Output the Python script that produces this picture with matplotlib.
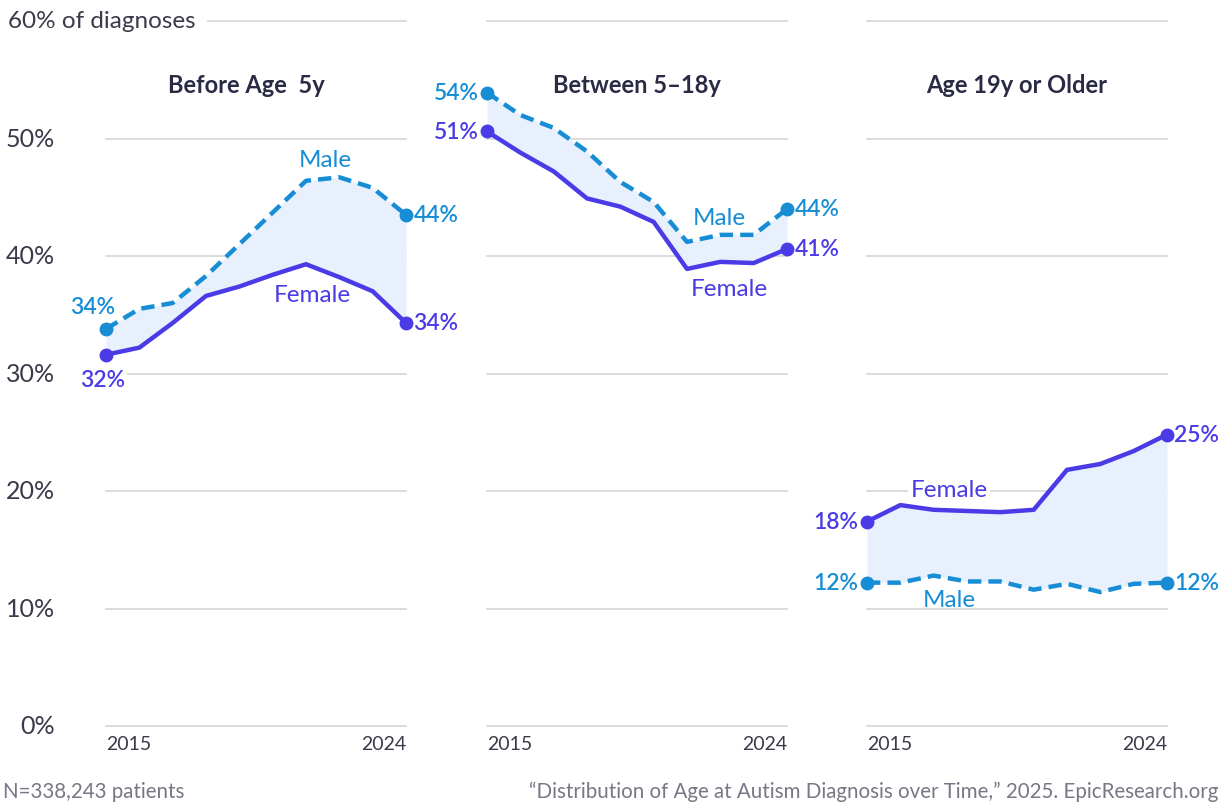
import numpy as np
import matplotlib
matplotlib.use('Agg')
import matplotlib.pyplot as plt

plt.rcParams['font.family'] = ['Lato', 'DejaVu Sans']

years = np.arange(2015, 2025)

titles = ['Before Age  5y', 'Between 5\u201318y', 'Age 19y or Older']

male = [
    [33.8, 35.5, 36.0, 38.3, 41.0, 43.7, 46.4, 46.7, 45.8, 43.5],
    [53.9, 52.0, 50.9, 48.9, 46.3, 44.6, 41.2, 41.8, 41.8, 44.0],
    [12.2, 12.2, 12.8, 12.3, 12.3, 11.6, 12.1, 11.4, 12.1, 12.2],
]
female = [
    [31.6, 32.2, 34.3, 36.6, 37.4, 38.4, 39.3, 38.2, 37.0, 34.3],
    [50.6, 48.8, 47.2, 44.9, 44.2, 42.9, 38.9, 39.5, 39.4, 40.6],
    [17.4, 18.8, 18.4, 18.3, 18.2, 18.4, 21.8, 22.3, 23.4, 24.8],
]
# end-point labels (start, end)
male_lbl = [('34%', '44%'), ('54%', '44%'), ('12%', '12%')]
female_lbl = [('32%', '34%'), ('51%', '41%'), ('18%', '25%')]

# series name label positions (year, value)
male_name_pos = [(2021.57, 48.2), (2021.96, 43.3), (2017.46, 10.8)]
female_name_pos = [(2021.2, 36.7), (2022.26, 37.2), (2017.46, 20.15)]

yticks = [0, 10, 20, 30, 40, 50, 60]

MALE_C = '#178dd5'
FEMALE_C = '#4a3be6'
FILL_C = '#e7f0fc'
GRID_C = '#d6d6d6'
TITLE_C = '#2a2a45'
TEXT_C = '#3a3a4a'

W, H = 1220, 803
fig = plt.figure(figsize=(12.2, 8.03), dpi=100)
fig.patch.set_facecolor('white')

lefts = [106, 487, 867]
bottom = 1 - 727 / H
height = (727 - 22) / H

bbox_w = dict(facecolor='white', edgecolor='none', pad=1.5)
LBL = 16.5

for i in range(3):
    ax = fig.add_axes([lefts[i] / W, bottom, 300 / W, height])
    ax.set_xlim(2015, 2024)
    ax.set_ylim(0, 60)
    for s in ax.spines.values():
        s.set_visible(False)
    ax.set_xticks([])
    ax.set_yticks([])
    for v in yticks:
        ax.axhline(v, color=GRID_C, lw=1.2, zorder=0, clip_on=False)

    m = np.array(male[i])
    f = np.array(female[i])
    ax.fill_between(years, m, f, color=FILL_C, lw=0, zorder=1)
    ax.plot(years, f, color=FEMALE_C, lw=3.2, solid_joinstyle='round',
            zorder=3, clip_on=False)
    ax.plot(years, m, color=MALE_C, lw=3.2, dashes=(3.0, 1.6),
            zorder=3, clip_on=False)
    ax.plot(years[[0, -1]], m[[0, -1]], 'o', color=MALE_C, ms=9,
            zorder=4, clip_on=False)
    ax.plot(years[[0, -1]], f[[0, -1]], 'o', color=FEMALE_C, ms=9,
            zorder=4, clip_on=False)

    # endpoint labels
    if i == 0:
        ax.text(2014.6, 35.7, male_lbl[i][0], color=MALE_C, fontsize=LBL,
                fontweight='semibold', ha='center', va='center', zorder=5)
        ax.text(2014.9, 29.5, female_lbl[i][0], color=FEMALE_C, fontsize=LBL,
                fontweight='semibold', ha='center', va='center', zorder=5,
                bbox=bbox_w)
    else:
        ax.text(2014.75, m[0], male_lbl[i][0], color=MALE_C, fontsize=LBL,
                fontweight='semibold', ha='right', va='center', zorder=5)
        ax.text(2014.75, f[0], female_lbl[i][0], color=FEMALE_C, fontsize=LBL,
                fontweight='semibold', ha='right', va='center', zorder=5)
    ax.text(2024.22, m[-1], male_lbl[i][1], color=MALE_C, fontsize=LBL,
            fontweight='semibold', ha='left', va='center', zorder=5)
    ax.text(2024.22, f[-1], female_lbl[i][1], color=FEMALE_C, fontsize=LBL,
            fontweight='semibold', ha='left', va='center', zorder=5)

    # series names
    ax.text(*male_name_pos[i], 'Male', color=MALE_C, fontsize=17.5,
            ha='center', va='center', zorder=5)
    ax.text(*female_name_pos[i], 'Female', color=FEMALE_C, fontsize=17.5,
            ha='center', va='center', zorder=5,
            bbox=bbox_w if i == 2 else None)

    # title
    ax.text(0.467 if i == 0 else 0.5, 54.6 / 60, titles[i], transform=ax.transAxes,
            ha='center', va='center', fontsize=17, fontweight='bold',
            color=TITLE_C, zorder=5)

    # year labels
    ax.text(2015, -1.5, '2015', ha='left', va='center', fontsize=14,
            color=TEXT_C)
    ax.text(2024, -1.5, '2024', ha='right', va='center', fontsize=14,
            color=TEXT_C)

    if i == 0:
        for v in yticks[:-1]:
            ax.text(55 / W, bottom + v / 60 * height, f'{v}%',
                    transform=fig.transFigure, ha='right', va='center',
                    fontsize=18, color=TEXT_C)
        ax.text(8 / W, bottom + height, '60% of diagnoses',
                transform=fig.transFigure, ha='left', va='center',
                fontsize=17.5, color=TEXT_C, zorder=5,
                bbox=dict(facecolor='white', edgecolor='none', pad=8))

fig.text(3 / W, 1 - 792 / H, 'N=338,243 patients', ha='left', va='center',
         fontsize=14.8, color='#777785')
fig.text(1218 / W, 1 - 792 / H,
         '\u201cDistribution of Age at Autism Diagnosis over Time,\u201d 2025. EpicResearch.org',
         ha='right', va='center', fontsize=14.8, color='#777785')

fig.savefig('out.png', dpi=100, facecolor='white')
